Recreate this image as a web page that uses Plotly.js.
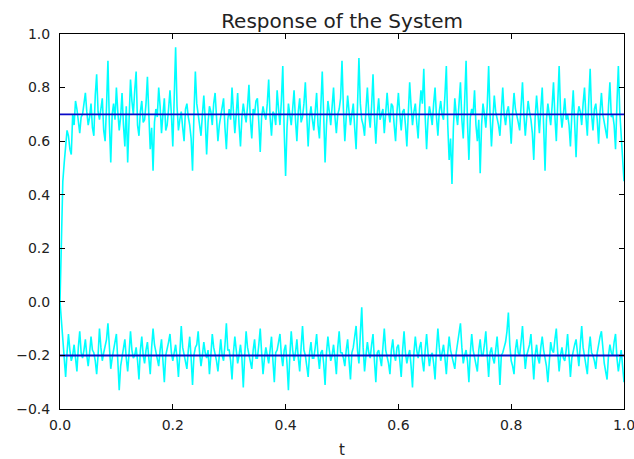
<!DOCTYPE html>
<html>
<head>
<meta charset="utf-8">
<script src="https://cdn.plot.ly/plotly-3.0.1.min.js"></script>
<style>
  html, body { margin: 0; padding: 0; background: #fff; }
  #chart { width: 634px; height: 459px; }
</style>
</head>
<body>
<div id="chart"></div>
<script>
// Sampling of the simulated response (t runs from 0 to 1)
const tStart = 0.0;
const tStep = 0.0025;

// Measured output, channel 1 (settles near 0.7)
const response1 = [
  0.00, 0.30, 0.45, 0.52, 0.58, 0.64, 0.62, 0.57, 0.55, 0.70, 0.66, 0.75, 0.72, 0.68, 0.63, 0.69, 0.70, 0.74, 0.78, 0.71,
  0.66, 0.69, 0.74, 0.65, 0.62, 0.77, 0.85, 0.71, 0.68, 0.72, 0.76, 0.64, 0.60, 0.73, 0.90, 0.67, 0.52, 0.70, 0.74, 0.68,
  0.80, 0.71, 0.64, 0.69, 0.78, 0.66, 0.58, 0.73, 0.52, 0.68, 0.83, 0.75, 0.70, 0.79, 0.86, 0.66, 0.62, 0.71, 0.75, 0.67,
  0.68, 0.74, 0.84, 0.70, 0.57, 0.65, 0.49, 0.67, 0.72, 0.69, 0.80, 0.73, 0.63, 0.70, 0.76, 0.64, 0.66, 0.72, 0.79, 0.70,
  0.58, 0.76, 0.95, 0.73, 0.64, 0.68, 0.71, 0.65, 0.60, 0.72, 0.74, 0.69, 0.66, 0.61, 0.49, 0.70, 0.86, 0.74, 0.70, 0.66,
  0.62, 0.70, 0.77, 0.68, 0.55, 0.67, 0.73, 0.71, 0.66, 0.74, 0.78, 0.69, 0.60, 0.66, 0.69, 0.73, 0.76, 0.65, 0.57, 0.68,
  0.72, 0.68, 0.80, 0.71, 0.63, 0.70, 0.78, 0.66, 0.58, 0.69, 0.74, 0.70, 0.67, 0.73, 0.81, 0.68, 0.61, 0.72, 0.70, 0.75,
  0.76, 0.67, 0.56, 0.69, 0.73, 0.70, 0.68, 0.74, 0.83, 0.69, 0.62, 0.71, 0.70, 0.66, 0.79, 0.72, 0.66, 0.75, 0.88, 0.64,
  0.47, 0.65, 0.74, 0.70, 0.66, 0.72, 0.79, 0.68, 0.60, 0.71, 0.76, 0.67, 0.69, 0.74, 0.82, 0.70, 0.58, 0.69, 0.73, 0.68,
  0.64, 0.71, 0.78, 0.66, 0.61, 0.73, 0.86, 0.70, 0.52, 0.66, 0.75, 0.71, 0.66, 0.73, 0.80, 0.69, 0.63, 0.70, 0.72, 0.76,
  0.90, 0.72, 0.60, 0.69, 0.77, 0.71, 0.66, 0.70, 0.74, 0.65, 0.57, 0.73, 0.91, 0.74, 0.68, 0.66, 0.62, 0.72, 0.80, 0.70,
  0.65, 0.73, 0.85, 0.69, 0.59, 0.70, 0.76, 0.68, 0.70, 0.72, 0.63, 0.69, 0.78, 0.71, 0.67, 0.74, 0.73, 0.66, 0.60, 0.71,
  0.78, 0.70, 0.64, 0.71, 0.72, 0.66, 0.58, 0.70, 0.82, 0.73, 0.66, 0.71, 0.74, 0.67, 0.61, 0.72, 0.79, 0.74, 0.87, 0.69,
  0.57, 0.68, 0.73, 0.70, 0.66, 0.74, 0.80, 0.69, 0.62, 0.71, 0.75, 0.70, 0.68, 0.77, 0.88, 0.66, 0.53, 0.61, 0.44, 0.65,
  0.76, 0.70, 0.66, 0.74, 0.82, 0.68, 0.61, 0.75, 0.90, 0.67, 0.53, 0.69, 0.72, 0.70, 0.79, 0.66, 0.60, 0.68, 0.48, 0.66,
  0.74, 0.70, 0.65, 0.73, 0.88, 0.70, 0.58, 0.68, 0.77, 0.71, 0.69, 0.66, 0.62, 0.72, 0.80, 0.70, 0.66, 0.71, 0.73, 0.68,
  0.59, 0.70, 0.78, 0.72, 0.70, 0.67, 0.64, 0.73, 0.82, 0.70, 0.62, 0.69, 0.75, 0.71, 0.68, 0.63, 0.53, 0.69, 0.77, 0.70,
  0.63, 0.72, 0.80, 0.66, 0.49, 0.68, 0.74, 0.70, 0.66, 0.73, 0.82, 0.69, 0.60, 0.74, 0.88, 0.71, 0.65, 0.70, 0.76, 0.68,
  0.70, 0.66, 0.58, 0.70, 0.79, 0.67, 0.54, 0.69, 0.73, 0.71, 0.66, 0.74, 0.80, 0.69, 0.62, 0.75, 0.87, 0.70, 0.64, 0.72,
  0.74, 0.68, 0.59, 0.71, 0.78, 0.70, 0.67, 0.65, 0.61, 0.73, 0.82, 0.69, 0.70, 0.66, 0.57, 0.74, 0.88, 0.71, 0.62, 0.55,
  0.45
];

// Measured output, channel 2 (settles near -0.2)
const response2 = [
  0.00, -0.08, -0.15, -0.22, -0.28, -0.19, -0.12, -0.18, -0.22, -0.20, -0.16, -0.21, -0.26, -0.17, -0.11, -0.19, -0.21, -0.18, -0.14, -0.20,
  -0.24, -0.19, -0.13, -0.18, -0.19, -0.22, -0.27, -0.20, -0.10, -0.17, -0.22, -0.19, -0.16, -0.14, -0.08, -0.18, -0.25, -0.21, -0.18, -0.15,
  -0.12, -0.22, -0.33, -0.24, -0.20, -0.17, -0.14, -0.21, -0.26, -0.19, -0.11, -0.18, -0.21, -0.20, -0.17, -0.22, -0.29, -0.18, -0.13, -0.20,
  -0.23, -0.18, -0.15, -0.21, -0.27, -0.17, -0.10, -0.16, -0.19, -0.21, -0.24, -0.18, -0.14, -0.22, -0.30, -0.20, -0.18, -0.15, -0.12, -0.19,
  -0.22, -0.18, -0.16, -0.21, -0.28, -0.19, -0.09, -0.17, -0.20, -0.23, -0.25, -0.18, -0.13, -0.21, -0.31, -0.20, -0.17, -0.16, -0.11, -0.19,
  -0.24, -0.20, -0.15, -0.19, -0.21, -0.18, -0.27, -0.20, -0.12, -0.17, -0.19, -0.22, -0.26, -0.19, -0.14, -0.20, -0.22, -0.16, -0.08, -0.18,
  -0.18, -0.22, -0.29, -0.19, -0.13, -0.18, -0.23, -0.20, -0.16, -0.21, -0.32, -0.20, -0.11, -0.17, -0.20, -0.22, -0.25, -0.18, -0.14, -0.21,
  -0.21, -0.16, -0.10, -0.19, -0.27, -0.21, -0.17, -0.20, -0.23, -0.18, -0.13, -0.22, -0.30, -0.19, -0.18, -0.15, -0.12, -0.20, -0.24, -0.18,
  -0.16, -0.23, -0.33, -0.20, -0.11, -0.18, -0.22, -0.19, -0.14, -0.21, -0.26, -0.17, -0.09, -0.18, -0.20, -0.24, -0.28, -0.19, -0.15, -0.21,
  -0.21, -0.17, -0.12, -0.20, -0.25, -0.19, -0.18, -0.23, -0.31, -0.19, -0.13, -0.18, -0.22, -0.20, -0.16, -0.21, -0.27, -0.17, -0.11, -0.19,
  -0.19, -0.21, -0.24, -0.18, -0.14, -0.22, -0.29, -0.19, -0.17, -0.13, -0.09, -0.18, -0.23, -0.12, -0.02, -0.17, -0.26, -0.20, -0.15, -0.19,
  -0.21, -0.16, -0.12, -0.22, -0.30, -0.19, -0.18, -0.21, -0.24, -0.17, -0.10, -0.18, -0.20, -0.23, -0.27, -0.18, -0.14, -0.20, -0.22, -0.17,
  -0.16, -0.21, -0.28, -0.18, -0.11, -0.19, -0.23, -0.20, -0.18, -0.24, -0.32, -0.19, -0.13, -0.18, -0.21, -0.17, -0.15, -0.22, -0.26, -0.18,
  -0.12, -0.19, -0.24, -0.20, -0.19, -0.23, -0.29, -0.18, -0.10, -0.17, -0.22, -0.19, -0.16, -0.21, -0.27, -0.19, -0.13, -0.18, -0.20, -0.22,
  -0.25, -0.19, -0.15, -0.12, -0.08, -0.17, -0.23, -0.20, -0.18, -0.22, -0.30, -0.19, -0.12, -0.18, -0.21, -0.23, -0.26, -0.18, -0.14, -0.20,
  -0.20, -0.16, -0.11, -0.20, -0.28, -0.19, -0.17, -0.21, -0.23, -0.18, -0.13, -0.20, -0.31, -0.20, -0.19, -0.17, -0.15, -0.11, -0.04, -0.16,
  -0.22, -0.24, -0.27, -0.18, -0.14, -0.19, -0.20, -0.15, -0.09, -0.18, -0.25, -0.20, -0.18, -0.16, -0.12, -0.21, -0.29, -0.20, -0.16, -0.21,
  -0.23, -0.17, -0.13, -0.18, -0.21, -0.24, -0.30, -0.20, -0.15, -0.18, -0.19, -0.14, -0.10, -0.19, -0.26, -0.20, -0.17, -0.21, -0.22, -0.18,
  -0.12, -0.20, -0.28, -0.21, -0.18, -0.16, -0.14, -0.19, -0.24, -0.16, -0.09, -0.17, -0.21, -0.23, -0.27, -0.18, -0.13, -0.19, -0.20, -0.22,
  -0.25, -0.19, -0.15, -0.13, -0.11, -0.19, -0.23, -0.26, -0.29, -0.20, -0.16, -0.19, -0.20, -0.15, -0.12, -0.21, -0.26, -0.22, -0.18, -0.24,
  -0.30
];

// Reference set-points for each channel
const setpoints = [0.7, -0.2];
const tRange = [0, 1];

const xTicks = [0.0, 0.2, 0.4, 0.6, 0.8, 1.0];
const yTicks = [-0.4, -0.2, 0.0, 0.2, 0.4, 0.6, 0.8, 1.0];

const traces = [];
[response1, response2].forEach(function (ys) {
  traces.push({
    type: 'scatter', mode: 'lines',
    x0: tStart, dx: tStep, y: ys,
    line: { color: '#00ffff', width: 1.6 },
    hoverinfo: 'skip', showlegend: false
  });
});
setpoints.forEach(function (r) {
  traces.push({
    type: 'scatter', mode: 'lines',
    x: tRange, y: [r, r],
    line: { color: '#0a0ac8', width: 1.9 },
    hoverinfo: 'skip', showlegend: false
  });
});

const axisCommon = {
  showgrid: false, zeroline: false,
  showline: true, linecolor: '#000', linewidth: 1, mirror: 'ticks',
  ticks: 'inside', ticklen: 5, tickwidth: 1, tickcolor: '#000',
  tickfont: { family: 'DejaVu Sans, sans-serif', size: 14, color: '#222' },
  tickformat: '.1f', ticklabeloverflow: 'allow', fixedrange: true
};

const layout = {
  width: 634, height: 459,
  margin: { l: 60, r: 10, t: 34, b: 50 },
  paper_bgcolor: '#fff', plot_bgcolor: '#fff',
  title: {
    text: 'Response of the System',
    font: { family: 'DejaVu Sans, sans-serif', size: 20, color: '#222' },
    x: 0.5395, xanchor: 'center', y: 0.955, yanchor: 'middle'
  },
  xaxis: Object.assign({}, axisCommon, {
    range: tRange, tickmode: 'array', tickvals: xTicks, ticklabelstandoff: 3,
    title: { text: 't', font: { family: 'DejaVu Sans, sans-serif', size: 15, color: '#222' }, standoff: 12 }
  }),
  yaxis: Object.assign({}, axisCommon, {
    range: [-0.4, 1.0], tickmode: 'array', tickvals: yTicks, ticklabelstandoff: 6
  })
};

Plotly.newPlot('chart', traces, layout, { staticPlot: true, displayModeBar: false });
</script>
</body>
</html>
